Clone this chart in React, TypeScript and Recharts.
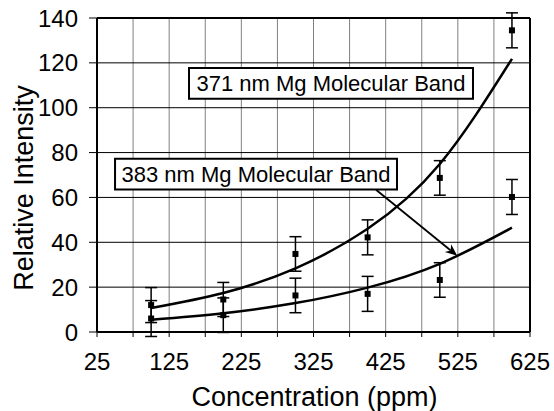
import React from 'react';
import {
  ComposedChart,
  XAxis,
  YAxis,
  CartesianGrid,
  Line,
  Scatter,
  ErrorBar,
  ReferenceArea,
  ReferenceLine,
  Label,
} from 'recharts';

// Concentration of the standards (ppm)
const concentrations = [100, 200, 300, 400, 500, 600];

// 371 nm Mg molecular band: measured intensity and error
const band371 = [12.0, 14.5, 34.8, 42.2, 68.7, 134.5];
const band371Err = [7.8, 7.6, 7.7, 7.8, 7.7, 7.8];

// 383 nm Mg molecular band: measured intensity and error
const band383 = [6.0, 7.5, 16.3, 17.0, 23.2, 60.2];
const band383Err = [8.0, 7.7, 7.7, 7.8, 7.7, 7.8];

// Exponential trend lines at the same concentrations
const trend371 = [10.7, 17.4, 28.4, 46.0, 74.9, 121.8];
const trend383 = [5.5, 8.4, 12.9, 19.8, 30.4, 46.5];

const xTicks = [25, 75, 125, 175, 225, 275, 325, 375, 425, 475, 525, 575, 625];
const xLabels = [25, 125, 225, 325, 425, 525, 625];
const yTicks = [0, 20, 40, 60, 80, 100, 120, 140];

const rows = concentrations.map((c, i) => ({
  conc: c,
  b371: band371[i],
  e371: band371Err[i],
  b383: band383[i],
  e383: band383Err[i],
  t371: trend371[i],
  t383: trend383[i],
}));

const FONT = '"Liberation Sans", Arial, Helvetica, sans-serif';

// error bars may run past the frame, so the marker layers are not clipped
const css = '.recharts-scatter{clip-path:none !important;}';

const SquareMarker = (props: any) => {
  const { cx, cy } = props;
  if (cx == null || cy == null) return null;
  return <rect x={cx - 3} y={cy - 3} width={6} height={6} fill="#000" />;
};

const Arrow = (props: any) => {
  const { x1, y1, x2, y2 } = props;
  if ([x1, y1, x2, y2].some((v) => v == null || isNaN(v))) return null;
  const dx = x2 - x1;
  const dy = y2 - y1;
  const len = Math.sqrt(dx * dx + dy * dy);
  const ux = dx / len;
  const uy = dy / len;
  const headLen = 12;
  const headHalf = 5;
  const bx = x2 - ux * headLen;
  const by = y2 - uy * headLen;
  const nx = -uy;
  const ny = ux;
  const inner = { x: x2 - ux * headLen * 0.7, y: y2 - uy * headLen * 0.7 };
  return (
    <g>
      <line x1={x1} y1={y1} x2={inner.x} y2={inner.y} stroke="#000" strokeWidth={1.8} />
      <polygon
        points={`${x2},${y2} ${bx + nx * headHalf},${by + ny * headHalf} ${inner.x},${inner.y} ${bx - nx * headHalf},${by - ny * headHalf}`}
        fill="#000"
      />
    </g>
  );
};

const XTitle = (props: any) => {
  const vb = props.viewBox || {};
  return (
    <text
      x={vb.x + vb.width / 2 + 1}
      y={406}
      textAnchor="middle"
      fontFamily={FONT}
      fontSize={27}
      fill="#000"
    >
      Concentration (ppm)
    </text>
  );
};

const YTitle = (props: any) => {
  const vb = props.viewBox || {};
  const cx = 33;
  const cy = vb.y + vb.height / 2 + 13;
  return (
    <text
      x={cx}
      y={cy}
      transform={`rotate(-90, ${cx}, ${cy})`}
      textAnchor="middle"
      fontFamily={FONT}
      fontSize={27}
      fill="#000"
    >
      Relative Intensity
    </text>
  );
};

export default function App() {
  return (
    <div style={{ position: 'absolute', left: 0, top: 0, fontFamily: FONT }}>
      <style>{css}</style>
      <ComposedChart
        width={554}
        height={411}
        data={rows}
        margin={{ top: 18, right: 24, left: 0, bottom: 0 }}
      >
        <CartesianGrid horizontal={false} stroke="#808080" strokeWidth={1} />
        <CartesianGrid vertical={false} stroke="#000" strokeWidth={1} />
        <XAxis
          dataKey="conc"
          type="number"
          domain={[25, 625]}
          allowDataOverflow
          ticks={xTicks}
          interval={0}
          height={79}
          tickSize={5}
          tickMargin={16}
          tickFormatter={(v: number) => (xLabels.includes(v) ? String(v) : '')}
          tick={{ fill: '#000', fontSize: 24, fontFamily: FONT }}
          axisLine={{ stroke: '#000', strokeWidth: 2 }}
          tickLine={{ stroke: '#000', strokeWidth: 1 }}
        >
          <Label content={<XTitle />} />
        </XAxis>
        <YAxis
          type="number"
          domain={[0, 140]}
          allowDataOverflow
          ticks={yTicks}
          interval={0}
          width={97}
          tickSize={8}
          tickMargin={11}
          tick={{ fill: '#000', fontSize: 24, fontFamily: FONT }}
          axisLine={{ stroke: '#000', strokeWidth: 2 }}
          tickLine={{ stroke: '#000', strokeWidth: 1 }}
        >
          <Label content={<YTitle />} />
        </YAxis>

        {/* top and right frame of the plot area */}
        <ReferenceLine y={140} stroke="#000" strokeWidth={2} />
        <ReferenceLine x={625} stroke="#000" strokeWidth={2} />

        <ReferenceArea
          x1={152.5}
          x2={546}
          y1={104}
          y2={117.7}
          fill="#fff"
          fillOpacity={1}
          stroke="#000"
          strokeWidth={2}
          label={{ value: '371 nm Mg Molecular Band', position: 'center', fontSize: 22, fill: '#000', fontFamily: FONT }}
        />
        <ReferenceArea
          x1={50}
          x2={440.7}
          y1={63.5}
          y2={77.3}
          fill="#fff"
          fillOpacity={1}
          stroke="#000"
          strokeWidth={2}
          label={{ value: '383 nm Mg Molecular Band', position: 'center', fontSize: 22, fill: '#000', fontFamily: FONT }}
        />

        <Line
          dataKey="t371"
          type="natural"
          stroke="#000"
          strokeWidth={2.5}
          dot={false}
          activeDot={false}
          isAnimationActive={false}
        />
        <Line
          dataKey="t383"
          type="natural"
          stroke="#000"
          strokeWidth={2.5}
          dot={false}
          activeDot={false}
          isAnimationActive={false}
        />

        <ReferenceLine
          segment={[
            { x: 411.6, y: 63.4 },
            { x: 524.2, y: 34.0 },
          ]}
          shape={<Arrow />}
        />

        <Scatter dataKey="b371" shape={<SquareMarker />} isAnimationActive={false}>
          <ErrorBar dataKey="e371" direction="y" width={6} stroke="#000" strokeWidth={1.5} isAnimationActive={false} />
        </Scatter>
        <Scatter dataKey="b383" shape={<SquareMarker />} isAnimationActive={false}>
          <ErrorBar dataKey="e383" direction="y" width={6} stroke="#000" strokeWidth={1.5} isAnimationActive={false} />
        </Scatter>
      </ComposedChart>
    </div>
  );
}
